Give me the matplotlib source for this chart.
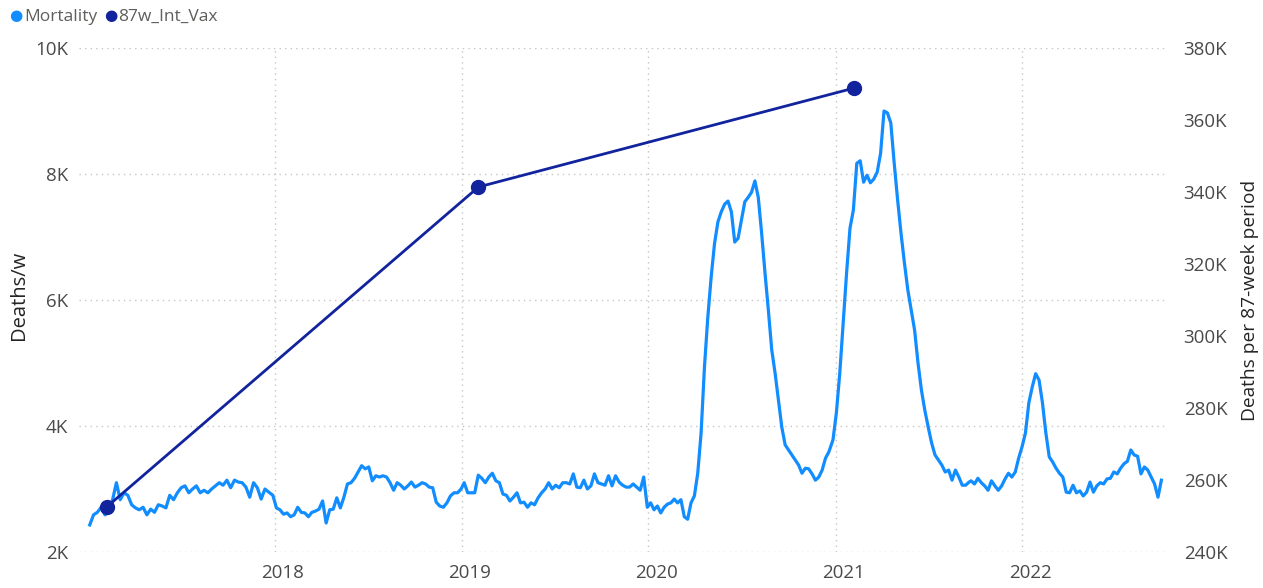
import matplotlib
matplotlib.use("Agg")
import matplotlib.pyplot as plt
from matplotlib.transforms import ScaledTranslation
import pandas as pd
import numpy as np

plt.rcParams['font.family'] = ['Open Sans', 'DejaVu Sans']

# ---------------- data ----------------
# weekly deaths (thousands) in consecutive stretches;
# each stretch has its first/last week date
mort_2017 = [2.43, 2.59, 2.63, 2.71, 2.59, 2.63, 2.83, 3.10, 2.83, 2.94, 2.90, 2.75, 2.70, 2.67, 2.71, 2.59,
             2.68, 2.63, 2.75, 2.73, 2.70, 2.90, 2.83, 2.94, 3.02, 3.05, 2.94, 3.00, 3.05, 2.94, 2.98, 2.94,
             3.00, 3.05, 3.10, 3.06, 3.14, 3.02, 3.14, 3.11, 3.10, 3.03, 2.87, 3.10, 3.02, 2.84, 3.00, 2.95]
mort_2018 = [2.90, 2.70, 2.67, 2.60, 2.62, 2.56, 2.59, 2.71, 2.63, 2.62, 2.56, 2.63, 2.65, 2.68, 2.81, 2.46,
             2.67, 2.68, 2.86, 2.70, 2.87, 3.08, 3.10, 3.17, 3.27, 3.37, 3.32, 3.35, 3.13, 3.21, 3.19, 3.21,
             3.19, 3.10, 2.98, 3.10, 3.06, 3.00, 3.05, 3.11, 3.03, 3.06, 3.10, 3.08, 3.03, 3.02, 2.79, 2.73,
             2.71, 2.78, 2.89, 2.94, 2.94, 3.00]
mort_2019 = [3.10, 2.94, 2.94, 2.94, 3.22, 3.17, 3.10, 3.19, 3.25, 3.13, 3.10, 2.92, 2.90, 2.81, 2.87, 2.94,
             2.78, 2.79, 2.71, 2.78, 2.75, 2.86, 2.94, 3.00, 3.10, 3.00, 3.06, 3.02, 3.10, 3.10, 3.08, 3.24,
             3.03, 3.02, 3.14, 3.00, 3.05, 3.24, 3.10, 3.08, 3.06, 3.21, 3.05, 3.21, 3.11, 3.06, 3.03, 3.03,
             3.08, 3.03, 2.98, 3.19]
mort_2020 = [2.71, 2.78, 2.67, 2.73, 2.62, 2.71, 2.76, 2.78, 2.84, 2.78, 2.83, 2.56, 2.52, 2.78, 2.89, 3.25,
             3.89, 4.94, 5.73, 6.37, 6.90, 7.24, 7.40, 7.52, 7.57, 7.40, 6.92, 6.98, 7.27, 7.56, 7.63, 7.71,
             7.89, 7.63, 7.06, 6.43, 5.84, 5.21, 4.84, 4.41, 3.98, 3.70, 3.62, 3.54, 3.46, 3.38, 3.25, 3.33,
             3.32, 3.24, 3.14, 3.19, 3.30, 3.49, 3.59]
mort_2021 = [3.78, 4.21, 4.84, 5.63, 6.43, 7.14, 7.43, 8.17, 8.21, 7.87, 7.98, 7.86, 7.92, 8.03, 8.33, 9.00,
             8.97, 8.81, 8.17, 7.59, 7.06, 6.59, 6.16, 5.84, 5.52, 5.00, 4.57, 4.25, 3.98, 3.73, 3.54, 3.46,
             3.38, 3.27, 3.30, 3.14, 3.30, 3.19, 3.06, 3.06, 3.11]
mort_2022 = [3.13, 3.08, 3.17, 3.10, 3.05, 2.98, 3.13, 3.05, 2.98, 3.05, 3.16, 3.25, 3.19, 3.27, 3.49, 3.67,
             3.89, 4.37, 4.62, 4.83, 4.73, 4.37, 3.89, 3.51, 3.43, 3.33, 3.25, 3.19, 2.95, 2.94, 3.06, 2.94,
             2.97, 2.89, 2.95, 3.11, 2.95, 3.05, 3.10, 3.08, 3.16, 3.17, 3.27, 3.24, 3.33, 3.40, 3.44, 3.62,
             3.54, 3.52, 3.24, 3.35, 3.30, 3.19, 3.08, 2.87, 3.14]
mort_segments = [mort_2017, mort_2018, mort_2019, mort_2020, mort_2021, mort_2022]
seg_first = ["2017-01-04", "2017-12-28", "2019-01-06", "2019-12-30", "2020-12-27", "2021-09-23"]
seg_last = ["2017-12-20", "2018-12-31", "2019-12-23", "2020-12-19", "2021-09-19", "2022-09-30"]

vax_dates = ["2017-02-06", "2019-02-03", "2021-02-07"]
vax_k = [252.5, 341.4, 368.9]

left_ticks_k = [2, 4, 6, 8, 10]
right_ticks_k = [240, 260, 280, 300, 320, 340, 360, 380]
year_ticks = ["2018", "2019", "2020", "2021", "2022"]

# ---------------- style ----------------
C_MORT = "#118DFF"
C_VAX = "#12239E"
C_TICK = "#4A4A4A"
C_TITLE = "#252423"
C_GRID = "#C8C6C4"

W, H = 1263, 588
fig = plt.figure(figsize=(W / 100, H / 100), dpi=100)
ax = fig.add_axes([79 / W, 1 - 552 / H, (1167 - 79) / W, (552 - 48) / H])
ax2 = ax.twinx()

dates = pd.DatetimeIndex(np.concatenate([
    pd.date_range(a, b, periods=len(s)).values for s, a, b in zip(mort_segments, seg_first, seg_last)
]))
values = np.concatenate([np.array(s) for s in mort_segments]) * 1000
ax.plot(dates, values, color=C_MORT, lw=2.3, solid_joinstyle="round", zorder=3)

vd = pd.to_datetime(vax_dates)
ax2.plot(vd, np.array(vax_k) * 1000, color=C_VAX, lw=2.0, marker="o", ms=10, zorder=4)

ax.set_ylim(2000, 10000)
ax2.set_ylim(240000, 380000)
ax.set_xlim(pd.Timestamp("2016-12-14"), pd.Timestamp("2022-10-11"))

ax.set_yticks([v * 1000 for v in left_ticks_k])
ax.set_yticklabels([f"{v}K" for v in left_ticks_k])
ax2.set_yticks([v * 1000 for v in right_ticks_k])
ax2.set_yticklabels([f"{v}K" for v in right_ticks_k])
ax.set_xticks(pd.to_datetime([f"{y}-01-01" for y in year_ticks]))
ax.set_xticklabels(year_ticks)

for a in (ax, ax2):
    for s in a.spines.values():
        s.set_visible(False)
    a.tick_params(length=0, labelsize=13.5, labelcolor=C_TICK)
ax.tick_params(axis="y", pad=8)
ax.tick_params(axis="x", pad=9)
ax2.tick_params(axis="y", pad=12)
for lab in ax.get_xticklabels():
    lab.set_transform(lab.get_transform() + ScaledTranslation(8 / 100, 0, fig.dpi_scale_trans))

ax.grid(True, color=C_GRID, lw=1.0, linestyle=(0, (1, 3)))
ax.set_axisbelow(True)

ax.set_ylabel("Deaths/w", fontsize=14.5, color=C_TITLE, labelpad=5)
ax.yaxis.set_label_coords(-0.046, 0.51)
ax2.set_ylabel("Deaths per 87-week period", fontsize=13.8, color=C_TITLE, labelpad=10)

# legend
fig.text(9 / W, 1 - 17 / H, "\u25CF", color=C_MORT, fontsize=11, va="center", ha="left")
fig.text(24 / W, 1 - 17 / H, "Mortality", color="#605E5C", fontsize=12.5, va="center", ha="left")
fig.text(104 / W, 1 - 17 / H, "\u25CF", color=C_VAX, fontsize=11, va="center", ha="left")
fig.text(118 / W, 1 - 17 / H, "87w_Int_Vax", color="#605E5C", fontsize=12.5, va="center", ha="left")

fig.savefig("out.png", dpi=100)
